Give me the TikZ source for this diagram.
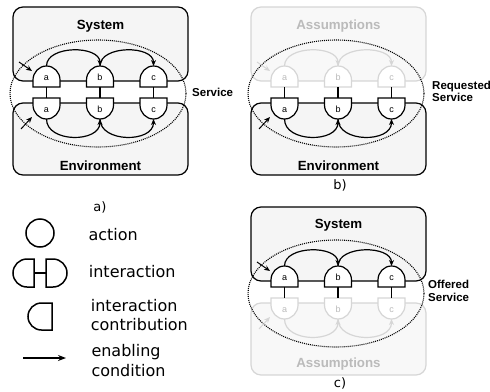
\documentclass[tikz,border=0pt]{standalone}
\usepackage{fontspec}
\setmainfont{DejaVu Sans}
\newfontfamily\arialf{Liberation Sans}
\usetikzlibrary{arrows.meta,shapes.geometric}

\definecolor{boxfill}{HTML}{F5F5F5}
\definecolor{fadeline}{HTML}{D6D6D6}
\definecolor{fadetext}{HTML}{BBBBBB}
\definecolor{fadefill}{HTML}{F8F8F8}

\tikzset{
  lw/.style={line width=1.2pt},
  panelbox/.style={draw, fill=boxfill, line width=1.2pt, rounded corners=10pt,
    minimum width=175pt, inner sep=0pt},
  fadebox/.style={panelbox, draw=fadeline, fill=fadefill},
  boxtitle/.style={font=\arialf\bfseries\fontsize{13.3}{15}\selectfont, anchor=base, inner sep=0pt},
  svclabel/.style={font=\arialf\bfseries\fontsize{11.5}{13}\selectfont, anchor=base west, inner sep=0pt},
  letter/.style={font=\arialf\fontsize{9}{10}\selectfont, anchor=base, inner sep=0pt},
  caption/.style={font=\fontsize{13}{15}\selectfont, anchor=base, inner sep=0pt},
  legtext/.style={font=\fontsize{16}{19}\selectfont, anchor=base west, inner sep=0pt},
  enab/.style={line width=1.2pt, -{Stealth[length=6pt,width=5pt]}},
  entry/.style={line width=1pt, -{Stealth[length=6pt,width=5pt]}},
  svc/.style={line width=1.1pt, dash pattern=on 1pt off 1pt},
  faded/.style={color=fadeline, every node/.append style={text=fadetext}},
  plain/.style={},
  pics/cup/.style={code={
     \path[draw, fill=white, line width=1.2pt] (-13.5,0) -- (-13.5,-7)
        .. controls (-13.5,-14.7) and (-7.46,-21) .. (0,-21)
        .. controls (7.46,-21) and (13.5,-14.7) .. (13.5,-7) -- (13.5,0) -- cycle;
     \node[letter] (-l) at (0,-6.5) {#1};
     \coordinate (-top) at (0,-21);
     \coordinate (-bot) at (0,0);
  }},
  pics/cdown/.style={code={
     \path[draw, fill=white, line width=1.2pt] (-13.5,0) -- (-13.5,7)
        .. controls (-13.5,14.7) and (-7.46,21) .. (0,21)
        .. controls (7.46,21) and (13.5,14.7) .. (13.5,7) -- (13.5,0) -- cycle;
     \node[letter] (-l) at (0,14) {#1};
     \coordinate (-top) at (0,0);
     \coordinate (-bot) at (0,21);
  }},
}

% #1 prefix, #2 style of upper row, #3 style of lower row
\newcommand\myrows[3]{%
  \begin{scope}[#2]
    \pic (#1sa) at (46.5,87) {cup=a};
    \pic (#1sb) at (100,87) {cup=b};
    \pic (#1sc) at (153.5,87) {cup=c};
    \draw[enab] (#1sa-top) .. controls +(0,-21) and +(0,-21) .. (#1sb-top);
    \draw[enab] (#1sb-top) .. controls +(0,-21) and +(0,-21) .. (#1sc-top);
    \coordinate (#1sin) at (19,62);
    \coordinate (#1sto) at (32,71);
    \draw[entry] (#1sin) -- (#1sto);
  \end{scope}
  \begin{scope}[#3]
    \pic (#1ea) at (46.5,98) {cdown=a};
    \pic (#1eb) at (100,98) {cdown=b};
    \pic (#1ec) at (153.5,98) {cdown=c};
    \draw[enab] (#1ea-bot) .. controls +(0,24) and +(0,24) .. (#1eb-bot);
    \draw[enab] (#1eb-bot) .. controls +(0,24) and +(0,24) .. (#1ec-bot);
    \coordinate (#1ein) at (21,129);
    \coordinate (#1eto) at (32,117);
    \draw[entry] (#1ein) -- (#1eto);
  \end{scope}
  \draw[lw] (#1sa-bot) -- (#1ea-top);
  \draw[lw] (#1sb-bot) -- (#1eb-top);
  \draw[lw] (#1sc-bot) -- (#1ec-top);
}

\begin{document}
\begin{tikzpicture}[x=1pt,y=-1pt]
\useasboundingbox (0,0) rectangle (490,391);

% ---------- panel a ----------
\node[panelbox, minimum height=74pt] (sysA) at (100.5,44) {};
\node[panelbox, minimum height=72pt] (envA) at (100.5,139) {};
\node[boxtitle] (sysAt) at (100.5,29) {System};
\node[boxtitle] (envAt) at (100.5,170) {Environment};
\node[draw, svc, ellipse, minimum width=176pt, minimum height=107pt, inner sep=0pt] (svcA) at (98,93.5) {};
\myrows{A}{plain}{plain}
\node[svclabel] (svcAt) at (192,96.7) {Service};
\node[caption] (capA) at (100,211) {a)};

% ---------- panel b ----------
\begin{scope}[shift={(238,0)}]
\node[fadebox, minimum height=74pt] (asmB) at (100.5,44) {};
\node[panelbox, minimum height=72pt] (envB) at (100.5,139) {};
\node[boxtitle, text=fadetext] (asmBt) at (100.5,29) {Assumptions};
\node[boxtitle] (envBt) at (100.5,170) {Environment};
\node[draw, svc, ellipse, minimum width=176pt, minimum height=107pt, inner sep=0pt] (svcB) at (98,93.5) {};
\myrows{B}{faded}{plain}
\node[svclabel] (svcBt1) at (194,89.5) {Requested};
\node[svclabel] (svcBt2) at (194,101.7) {Service};
\node[caption] (capB) at (102,189) {b)};
\end{scope}

% ---------- panel c ----------
\begin{scope}[shift={(238,200)}]
\node[panelbox, minimum height=74pt] (sysC) at (100.5,44) {};
\node[fadebox, minimum height=72pt] (asmC) at (100.5,139) {};
\node[boxtitle] (sysCt) at (100.5,28.5) {System};
\node[boxtitle, text=fadetext] (asmCt) at (100.5,167) {Assumptions};
\node[draw, svc, ellipse, minimum width=176pt, minimum height=107pt, inner sep=0pt] (svcC) at (98,93.5) {};
\myrows{C}{plain}{faded}
\node[svclabel] (svcCt1) at (190,88.3) {Offered};
\node[svclabel] (svcCt2) at (190,101.7) {Service};
\node[caption] (capC) at (102,187.5) {c)};
\end{scope}

% ---------- legend ----------
\node[draw, circle, line width=1.5pt, minimum size=28pt, inner sep=0pt] (legAct) at (40,233) {};
\node[legtext] (legActT) at (88.3,240.7) {action};

\draw[line width=1.5pt] (34,259) -- (27,259) .. controls (19.27,259) and (13,265.27) .. (13,273)
   .. controls (13,280.73) and (19.27,287) .. (27,287) -- (34,287) -- cycle;
\draw[line width=1.5pt] (46,259) -- (53,259) .. controls (60.73,259) and (67,265.27) .. (67,273)
   .. controls (67,280.73) and (60.73,287) .. (53,287) -- (46,287) -- cycle;
\coordinate (legIL) at (34,273);
\coordinate (legIR) at (46,273);
\draw[line width=1.5pt] (legIL) -- (legIR);
\node[legtext] (legIntT) at (88.7,277) {interaction};

\draw[line width=1.5pt] (52,303) -- (41.5,303) .. controls (34.04,303) and (28,309.04) .. (28,316.5)
   .. controls (28,323.96) and (34.04,330) .. (41.5,330) -- (52,330) -- cycle;
\node[legtext] (legConT1) at (90.7,311) {interaction};
\node[legtext] (legConT2) at (90.7,330) {contribution};

\coordinate (legA1) at (23,358);
\coordinate (legA2) at (66,358);
\draw[line width=1.5pt, -{Stealth[length=8pt,width=6pt]}] (legA1) -- (legA2);
\node[legtext] (legEnT1) at (91.3,356.7) {enabling};
\node[legtext] (legEnT2) at (91.3,376) {condition};
\end{tikzpicture}
\end{document}
